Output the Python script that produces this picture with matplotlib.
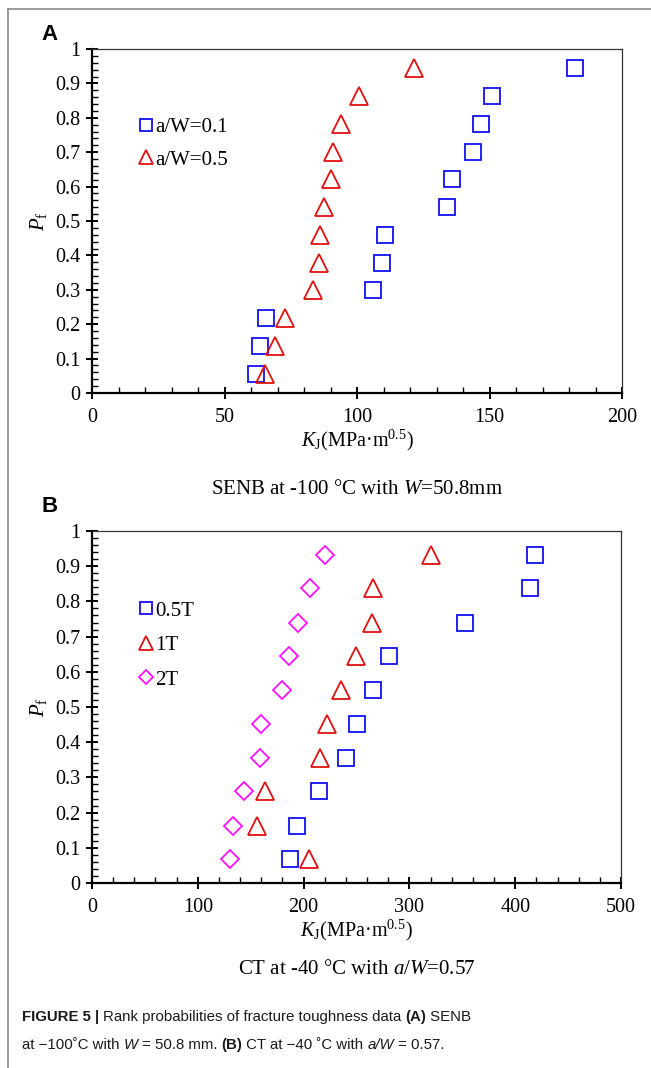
import matplotlib
matplotlib.use("Agg")
import matplotlib.pyplot as plt
from matplotlib.ticker import MultipleLocator, FuncFormatter
from matplotlib.lines import Line2D

plt.rcParams['font.family'] = ['Liberation Serif', 'DejaVu Serif']
plt.rcParams['mathtext.fontset'] = 'custom'
plt.rcParams['mathtext.rm'] = 'Liberation Serif'
plt.rcParams['mathtext.it'] = 'Liberation Serif:italic'
plt.rcParams['mathtext.bf'] = 'Liberation Serif:bold'

# ---------------- data ----------------
# Panel A: SENB at -100 C, W=50.8mm
a_pf = [0.056, 0.137, 0.218, 0.298, 0.379, 0.460, 0.540, 0.621, 0.702, 0.782, 0.863, 0.944]
a_k_aw01 = [62.0, 63.5, 65.8, 106.1, 109.4, 110.4, 134.0, 136.0, 143.8, 146.7, 150.9, 182.4]
a_k_aw05 = [65.1, 68.9, 72.9, 83.4, 85.5, 86.2, 87.4, 90.2, 90.8, 93.9, 100.9, 121.4]
a_labels = ["a/W=0.1", "a/W=0.5"]

# Panel B: CT at -40 C, a/W=0.57
b_pf = [0.067, 0.163, 0.260, 0.356, 0.452, 0.548, 0.644, 0.740, 0.837, 0.933]
b_k_05T = [187.4, 193.5, 214.8, 240.0, 250.0, 265.6, 280.9, 352.1, 414.3, 418.6]
b_k_1T = [205.5, 155.8, 163.9, 215.5, 221.9, 235.1, 249.3, 264.6, 266.0, 320.8]
b_k_2T = [130.9, 133.7, 143.7, 158.6, 159.7, 179.6, 186.0, 194.9, 206.3, 220.5]
b_labels = ["0.5T", "1T", "2T"]

BLUE = '#1010F0'
RED = '#E01010'
MAG = '#FF10FF'

W, H = 651, 1068
fig = plt.figure(figsize=(W / 100, H / 100), dpi=100)


def fx(px):
    return px / W


def fy(py):
    return 1 - py / H


def style_axes(ax, xmax, xmajor, xminor):
    ax.set_xlim(0, xmax)
    ax.set_ylim(0, 1)
    ax.xaxis.set_major_locator(MultipleLocator(xmajor))
    ax.xaxis.set_minor_locator(MultipleLocator(xminor))
    ax.yaxis.set_major_locator(MultipleLocator(0.1))
    ax.yaxis.set_minor_locator(MultipleLocator(0.02))
    ax.yaxis.set_major_formatter(FuncFormatter(lambda v, p: f"{v:g}"))
    ax.tick_params(which='major', direction='inout', length=9, width=1.4,
                   labelsize=14.5, pad=6, color='black')
    ax.tick_params(which='minor', direction='in', length=4.5, width=1.0)
    ax.tick_params(axis='y', which='major', pad=4)
    for s in ['left', 'bottom']:
        ax.spines[s].set_linewidth(1.6)
        ax.spines[s].set_color('black')
    for s in ['top', 'right']:
        ax.spines[s].set_linewidth(0.9)
        ax.spines[s].set_color('#333333')
    ax.set_ylabel(r'$P_\mathrm{f}$', fontsize=15, labelpad=4)
    ax.set_xlabel(r'$K_\mathrm{J}$(MPa·m$^{0.5}$)', fontsize=14.5, labelpad=1)


mk = dict(linestyle='none', markerfacecolor='none', markeredgewidth=1.3)

# ---------------- Panel A ----------------
axA = fig.add_axes([fx(92), fy(393), fx(622 - 92), (393 - 49) / H])
style_axes(axA, 200, 50, 10)
axA.plot(a_k_aw01, a_pf, marker='s', markersize=11, markeredgecolor=BLUE, label=a_labels[0], **mk)
axA.plot(a_k_aw05, a_pf, marker='^', markersize=12.5, markeredgecolor=RED, label=a_labels[1], **mk)
axA.legend(loc='upper left', bbox_to_anchor=(0.075, 0.825), frameon=False, fontsize=15,
           handlelength=0.6, handletextpad=0.12, labelspacing=0.62, borderaxespad=0,
           markerscale=0.82)
axA.set_xlim(0, 200)

fig.text(fx(357), fy(490), 'SENB at -100 °C with $W$=50.8mm', ha='center', va='center', fontsize=15)
fig.text(fx(50), fy(34), 'A', family='Liberation Sans', weight='bold', fontsize=16,
         ha='center', va='center')

# ---------------- Panel B ----------------
axB = fig.add_axes([fx(92), fy(883), fx(621 - 92), (883 - 531) / H])
style_axes(axB, 500, 100, 20)
axB.plot(b_k_05T, b_pf, marker='s', markersize=11, markeredgecolor=BLUE, label=b_labels[0], **mk)
axB.plot(b_k_1T, b_pf, marker='^', markersize=12.5, markeredgecolor=RED, label=b_labels[1], **mk)
axB.plot(b_k_2T, b_pf, marker='D', markersize=9, markeredgecolor=MAG, label=b_labels[2], **mk)
axB.legend(loc='upper left', bbox_to_anchor=(0.075, 0.825), frameon=False, fontsize=15,
           handlelength=0.6, handletextpad=0.12, labelspacing=0.72, borderaxespad=0,
           markerscale=0.82)

fig.text(fx(357), fy(970), 'CT at -40 °C with $a/W$=0.57', ha='center', va='center', fontsize=15)
fig.text(fx(50), fy(507), 'B', family='Liberation Sans', weight='bold', fontsize=16,
         ha='center', va='center')

# ---------------- frame lines ----------------
fig.add_artist(Line2D([fx(8), fx(8)], [fy(9), 0], color='#8a8a8a', lw=1.2))
fig.add_artist(Line2D([fx(8), 1], [fy(9), fy(9)], color='#8a8a8a', lw=1.2))

# ---------------- caption ----------------
fig.canvas.draw()
renderer = fig.canvas.get_renderer()


def seq_text(x0, y, pieces):
    x = x0
    for s, kw in pieces:
        t = fig.text(x / W, fy(y), s, fontsize=10.8, color='#1a1a1a', va='center', ha='left',
                     family=['Liberation Sans', 'DejaVu Sans'], **kw)
        bb = t.get_window_extent(renderer=renderer)
        x += bb.width


N = {}
B = {'weight': 'bold'}
I = {'style': 'italic'}
seq_text(22, 1017, [("FIGURE 5 | ", B), ("Rank probabilities of fracture toughness data ", N),
                    ("(A)", B), (" SENB", N)])
seq_text(22, 1045, [("at \u2212100\u02daC with ", N), ("W", I), (" = 50.8 mm. ", N), ("(B)", B),
                    (" CT at \u221240 \u02daC with ", N), ("a/W", I), (" = 0.57.", N)])

fig.savefig('out.png', dpi=100)
